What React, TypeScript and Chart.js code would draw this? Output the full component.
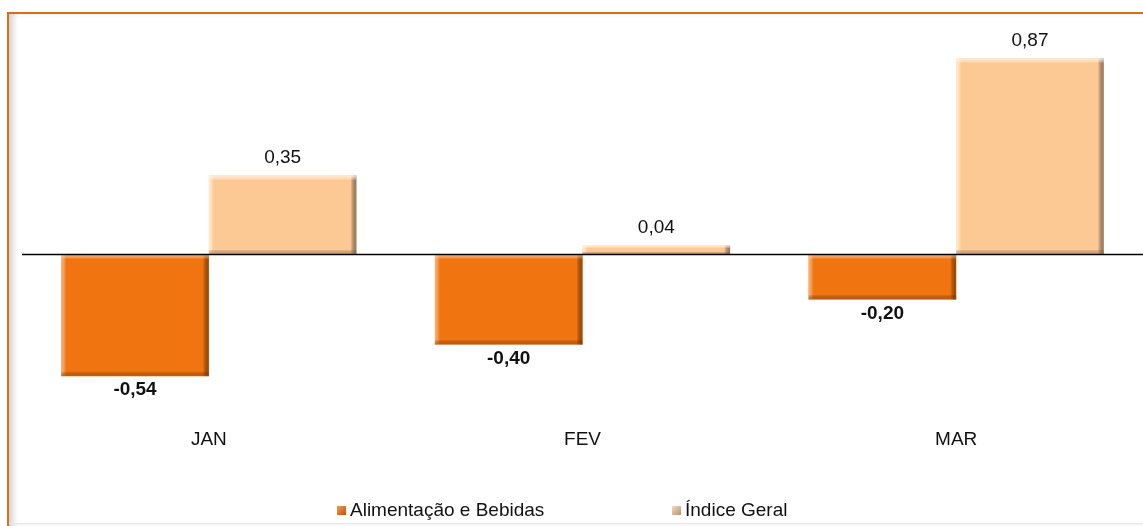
import React, { useEffect, useRef } from "react";
import { Chart, registerables } from "chart.js";

Chart.register(...registerables);

const categories = ["JAN", "FEV", "MAR"];
const alimentacao = [-0.54, -0.4, -0.2];
const indiceGeral = [0.35, 0.04, 0.87];
const seriesNames = ["Alimentação e Bebidas", "Índice Geral"];
const seriesColors = ["#F07511", "#FCC995"];

const FONT = "'Liberation Sans', Arial, sans-serif";
const fmt = (v: number) => v.toFixed(2).replace(".", ",");

const bevelPlugin = {
  id: "bevel",
  afterDatasetsDraw(chart: any) {
    const ctx = chart.ctx;
    chart.data.datasets.forEach((ds: any, di: number) => {
      const meta = chart.getDatasetMeta(di);
      const dark = di === 0 ? "rgba(150,70,5,0.85)" : "rgba(130,105,85,0.8)";
      const light = di === 0 ? "rgba(255,200,150,0.7)" : "rgba(255,240,215,0.9)";
      meta.data.forEach((bar: any) => {
        const left = bar.x - bar.width / 2;
        const right = bar.x + bar.width / 2;
        const top = Math.min(bar.y, bar.base);
        const bottom = Math.max(bar.y, bar.base);
        const h = bottom - top;
        const w = right - left;
        if (h < 1) return;
        const e = Math.min(5, h / 3);
        ctx.save();
        let g = ctx.createLinearGradient(right - 6, 0, right, 0);
        g.addColorStop(0, "rgba(0,0,0,0)");
        g.addColorStop(1, dark);
        ctx.fillStyle = g;
        ctx.fillRect(right - 6, top, 6, h);
        g = ctx.createLinearGradient(left, 0, left + 5, 0);
        g.addColorStop(0, light);
        g.addColorStop(1, "rgba(255,255,255,0)");
        ctx.fillStyle = g;
        ctx.fillRect(left, top, 5, h);
        g = ctx.createLinearGradient(0, top, 0, top + e);
        g.addColorStop(0, light);
        g.addColorStop(1, "rgba(255,255,255,0)");
        ctx.fillStyle = g;
        ctx.fillRect(left, top, w, e);
        g = ctx.createLinearGradient(0, bottom - e, 0, bottom);
        g.addColorStop(0, "rgba(0,0,0,0)");
        g.addColorStop(1, di === 0 ? "rgba(170,80,10,0.6)" : "rgba(200,150,110,0.6)");
        ctx.fillStyle = g;
        ctx.fillRect(left, bottom - e, w, e);
        ctx.restore();
      });
    });
    const ys = chart.scales.y;
    const y0 = Math.round(ys.getPixelForValue(0)) + 0.5;
    ctx.save();
    ctx.strokeStyle = "#000";
    ctx.lineWidth = 1.5;
    ctx.beginPath();
    ctx.moveTo(chart.chartArea.left, y0);
    ctx.lineTo(chart.chartArea.right, y0);
    ctx.stroke();
    ctx.fillStyle = "#111";
    ctx.textAlign = "center";
    ctx.textBaseline = "middle";
    chart.data.datasets.forEach((ds: any, di: number) => {
      const meta = chart.getDatasetMeta(di);
      meta.data.forEach((bar: any, i: number) => {
        const v = ds.data[i];
        if (v < 0) {
          ctx.font = "bold 19px " + FONT;
          ctx.fillText(fmt(v), bar.x, Math.max(bar.y, bar.base) + 14);
        } else {
          ctx.font = "19px " + FONT;
          ctx.fillText(fmt(v), bar.x, Math.min(bar.y, bar.base) - 18);
        }
      });
    });
    ctx.restore();
  },
};

export default function App() {
  const ref = useRef<HTMLCanvasElement>(null);
  useEffect(() => {
    if (!ref.current) return;
    const chart = new Chart(ref.current, {
      type: "bar",
      data: {
        labels: categories,
        datasets: [
          {
            label: seriesNames[0],
            data: alimentacao,
            backgroundColor: seriesColors[0],
            borderWidth: 0,
            categoryPercentage: 0.79,
            barPercentage: 1,
          },
          {
            label: seriesNames[1],
            data: indiceGeral,
            backgroundColor: seriesColors[1],
            borderWidth: 0,
            categoryPercentage: 0.79,
            barPercentage: 1,
          },
        ],
      },
      options: {
        animation: false,
        responsive: false,
        maintainAspectRatio: false,
        layout: { padding: { left: 22, right: 0, top: 29, bottom: 67 } },
        scales: {
          x: {
            grid: { display: false },
            border: { display: false },
            ticks: {
              color: "#111",
              padding: 8,
              font: { size: 19, family: FONT },
            },
          },
          y: {
            display: false,
            min: -0.7,
            max: 1.0,
          },
        },
        plugins: {
          legend: { display: false },
          tooltip: { enabled: false },
        },
      },
      plugins: [bevelPlugin],
    });
    return () => chart.destroy();
  }, []);

  const legendItem = (i: number, x: number, grad: string) => (
    <div
      key={i}
      style={{
        position: "absolute",
        left: x,
        top: 499,
        height: 22,
        display: "flex",
        alignItems: "center",
        fontFamily: FONT,
        fontSize: 19,
        color: "#111",
        whiteSpace: "nowrap",
      }}
    >
      <span
        style={{
          display: "inline-block",
          width: 9,
          height: 9,
          background: grad,
          marginRight: 4,
        }}
      />
      {seriesNames[i]}
    </div>
  );

  return (
    <div
      style={{
        position: "fixed",
        left: 0,
        top: 0,
        width: 1143,
        height: 526,
        background: "#fff",
        overflow: "hidden",
      }}
    >
      <div
        style={{
          position: "absolute",
          left: 7,
          top: 12,
          width: 1136,
          height: 514,
          borderTop: "2px solid #E36C0A",
          borderLeft: "2px solid #E36C0A",
          boxSizing: "border-box",
          boxShadow: "inset 6px 0 6px -2px rgba(0,0,0,0.18)",
        }}
      />
      <div
        style={{
          position: "absolute",
          left: 9,
          top: 523,
          width: 1134,
          height: 1,
          background: "#e8e8e8",
        }}
      />
      <canvas
        ref={ref}
        width={1143}
        height={526}
        style={{ position: "absolute", left: 0, top: 0, width: 1143, height: 526 }}
      />
      {legendItem(0, 337, "linear-gradient(135deg, #F59A50, #C0500A)")}
      {legendItem(1, 672, "linear-gradient(135deg, #F5DCC0, #B89070)")}
    </div>
  );
}
